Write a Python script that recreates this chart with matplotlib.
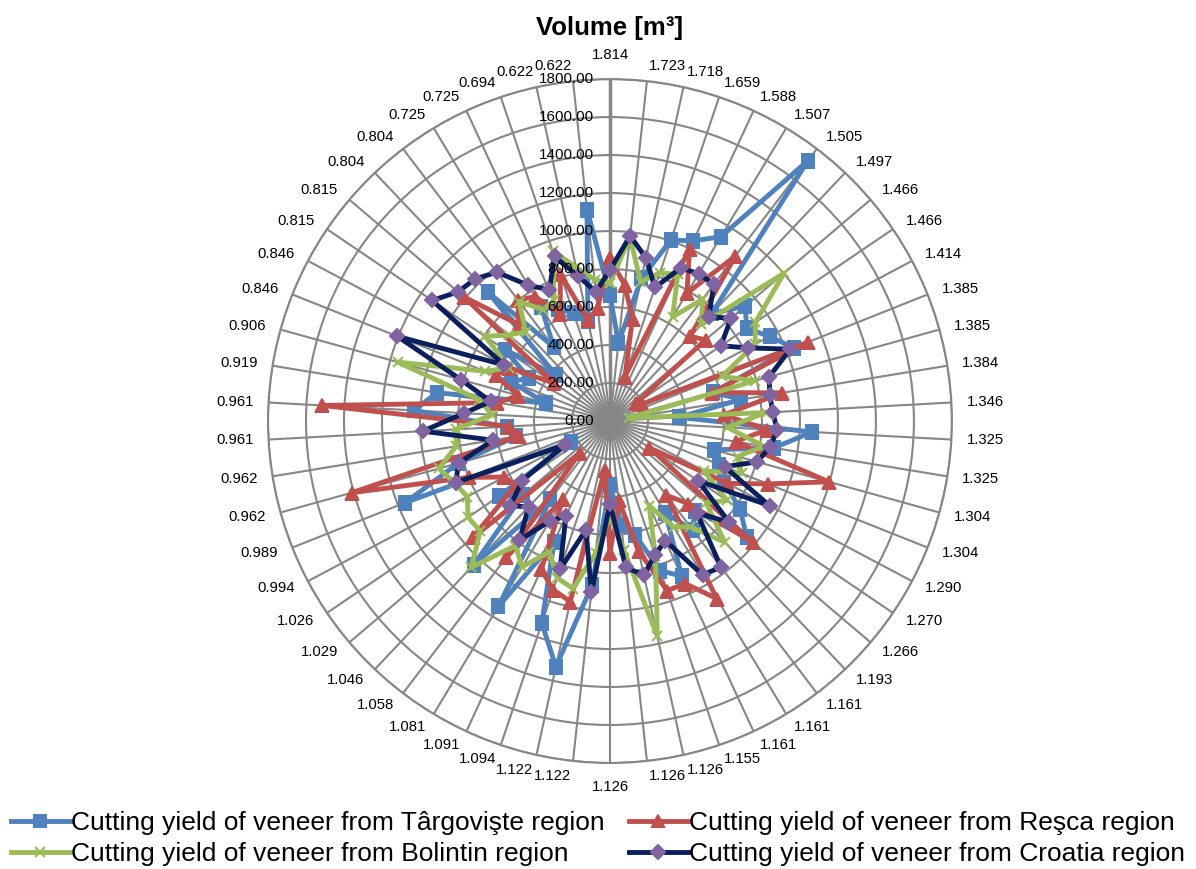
import numpy as np
import matplotlib.pyplot as plt

categories = ["1.814", "1.723", "1.718", "1.659", "1.588", "1.507", "1.505", "1.497",
              "1.466", "1.466", "1.414", "1.385", "1.385", "1.384", "1.346", "1.325",
              "1.325", "1.304", "1.304", "1.290", "1.270", "1.266", "1.193", "1.161",
              "1.161", "1.161", "1.155", "1.126", "1.126", "1.126", "1.122", "1.122",
              "1.094", "1.091", "1.081", "1.058", "1.046", "1.029", "1.026", "0.994",
              "0.989", "0.962", "0.962", "0.961", "0.961", "0.919", "0.906", "0.846",
              "0.846", "0.815", "0.815", "0.804", "0.804", "0.725", "0.725", "0.694",
              "0.622", "0.622"]

targoviste = [663, 414, 769, 1005, 1045, 1132, 1720, 780, 934, 870, 951, 1041, 563, 700, 363,
              1066, 874, 567, 620, 680, 827, 946, 650, 719, 567, 900, 831, 613, 550, 337,
              870, 1324, 1123, 700, 1139, 518, 1042, 600, 707, 234, 1160, 828, 500, 545,
              1034, 922, 351, 560, 482, 669, 374, 936, 490, 700, 650, 600, 540, 1120]

resca = [856, 720, 552, 247, 999, 786, 1089, 614, 660, 166, 190, 1124, 560, 918, 600,
         829, 670, 1196, 894, 700, 250, 987, 600, 490, 1091, 943, 942, 700, 420, 696,
         259, 973, 937, 861, 481, 901, 230, 947, 600, 630, 800, 1411, 484, 533, 1516,
         600, 500, 648, 600, 353, 1010, 700, 800, 764, 623, 817, 544, 600]

bolintin = [725, 975, 750, 824, 850, 640, 805, 700, 1201, 925, 865, 635, 790, 103, 820,
            620, 820, 698, 746, 560, 745, 664, 880, 700, 650, 490, 750, 1160, 684, 500,
            700, 903, 871, 759, 895, 824, 1061, 896, 902, 850, 880, 934, 821, 813, 621,
            700, 1160, 707, 600, 794, 700, 646, 790, 684, 700, 945, 828, 749]

croatia = [795, 980, 880, 742, 888, 905, 904, 756, 836, 706, 822, 1022, 869, 853, 858,
           882, 853, 804, 650, 951, 560, 824, 665, 966, 945, 694, 743, 831, 775, 437,
           906, 586, 824, 552, 615, 787, 623, 688, 558, 268, 875, 825, 624, 986, 769,
           636, 815, 1204, 629, 1131, 1050, 1031, 984, 835, 760, 914, 781, 685]

series_names = ["Cutting yield of veneer from Târgovişte region",
                "Cutting yield of veneer from Reşca region",
                "Cutting yield of veneer from Bolintin region",
                "Cutting yield of veneer from Croatia region"]

plt.rcParams['font.family'] = ['Liberation Sans', 'DejaVu Sans']

n = len(categories)
theta = np.arange(n) * 2 * np.pi / n
theta_c = np.append(theta, theta[0])

fig = plt.figure(figsize=(11.96, 8.69), dpi=100)
ax = fig.add_axes([0.224, 0.122, 0.572, 0.787], projection='polar')
ax.set_theta_zero_location('N')
ax.set_theta_direction(-1)
ax.set_ylim(0, 1800)
ax.set_yticks(np.arange(0, 1801, 200))
ax.set_yticklabels([])
ax.set_xticks(theta)
ax.set_xticklabels([])
ax.grid(color='#868686', lw=1.5)
ax.spines['polar'].set_color('#868686')
ax.spines['polar'].set_linewidth(1.5)
ax.plot([0, 0], [0, 1800], color='#868686', lw=2.5, zorder=1)

# radial value labels along the top spoke
for v in range(0, 1801, 200):
    ax.annotate(f"{v:.2f}", xy=(0, v), xytext=(-16, 0), textcoords='offset pixels',
                ha='right', va='center', fontsize=11, zorder=6)

# category labels round the outside (342 px = 1800)
for th, lab in zip(theta, categories):
    s, c = np.sin(th), np.cos(th)
    if abs(s) < 0.01:
        ax.annotate(lab, xy=(th, 1800), xytext=(0, 24 * c), textcoords='offset pixels',
                    ha='center', va='center', fontsize=10.7)
    else:
        ha = 'left' if s > 0 else 'right'
        ax.annotate(lab, xy=(th, 1800), xytext=(15 * s, 15 * c), textcoords='offset pixels',
                    ha=ha, va='center', fontsize=10.7)

styles = [
    (targoviste, '#4F81BD', 's', '#4F81BD', 8),
    (resca, '#C0504D', '^', '#C0504D', 9),
    (bolintin, '#9BBB59', 'x', '#9BBB59', 7),
    (croatia, '#0A1F5C', 'D', '#8064A2', 7),
]
handles = []
for (vals, col, mk, mcol, ms), name in zip(styles, series_names):
    vals_c = np.append(vals, vals[0])
    h, = ax.plot(theta_c, vals_c, color=col, lw=3.5, marker=mk, ms=ms,
                 markerfacecolor=mcol, markeredgecolor=mcol, mew=1.5,
                 label=name, zorder=3)
    handles.append(h)

fig.text(0.51, 0.968, "Volume [m³]", ha='center', va='center',
         fontsize=18.5, fontweight='bold')

order = [0, 2, 1, 3]
fig.legend(handles=[handles[i] for i in order], labels=[series_names[i] for i in order],
           ncol=2, loc='upper left', bbox_to_anchor=(0.0, 0.079), frameon=False,
           fontsize=19, handlelength=2.25, handletextpad=0.05, columnspacing=0.9,
           labelspacing=0.28, borderaxespad=0)

fig.savefig("out.png", dpi=100)
